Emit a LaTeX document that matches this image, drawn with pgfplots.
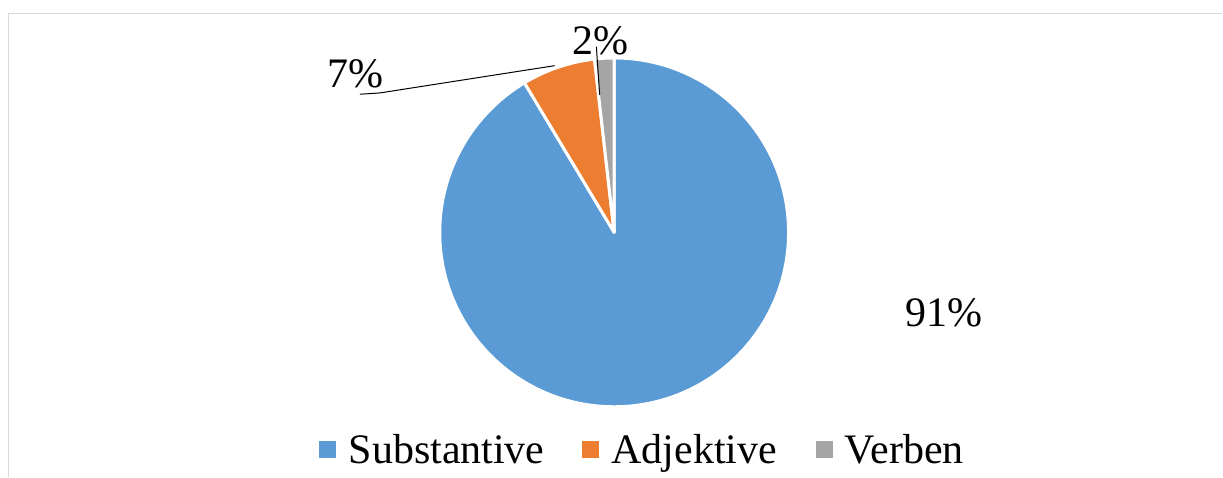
\documentclass[border=0pt]{standalone}
\usepackage{pgfplots}
\pgfplotsset{compat=1.18}
\usepackage{fontspec}
\setmainfont{Liberation Serif}
\definecolor{cBlue}{HTML}{5B9BD5}
\definecolor{cOrange}{HTML}{ED7D31}
\definecolor{cGray}{HTML}{A5A5A5}
\definecolor{cFrame}{HTML}{D9D9D9}
\begin{document}
\begin{tikzpicture}
\begin{axis}[scale only axis, width=611.5pt, height=238.5pt,
  xmin=0, xmax=1223, ymin=0, ymax=477, hide axis, clip=false]
\path (axis cs:0,0) rectangle (axis cs:1223,477);
\draw[color=cFrame, line width=0.7pt] (axis cs:8.3,0) -- (axis cs:8.3,463.7) -- (axis cs:1223,463.7);
% pie slices: values in percent, clockwise from 12 o'clock
\pgfplotsextra{%
  \foreach \v/\c [remember=\e as \s (initially 90)] in {91.4/cBlue, 6.8/cOrange, 1.8/cGray}{%
    \pgfmathsetmacro\e{\s-3.6*\v}%
    \fill[\c, draw=white, line width=1.5pt, line join=round] (axis cs:614.5,244.5) -- ++(\s:87.25pt) arc[start angle=\s, end angle=\e, radius=87.25pt] -- cycle;
  }%
}
% leader lines
\draw[black, line width=0.5pt] (axis cs:360,382.7) -- (axis cs:380,384) -- (axis cs:555,411.3);
\draw[black, line width=0.5pt] (axis cs:596.7,430.3) -- (axis cs:600,382);
% data labels
\node[anchor=base west, inner sep=0pt, font=\fontsize{21}{25}\selectfont] at (axis cs:327,389) {7\%};
\node[anchor=base west, inner sep=0pt, font=\fontsize{21}{25}\selectfont] at (axis cs:572,422) {2\%};
\node[anchor=base west, inner sep=0pt, font=\fontsize{21}{25}\selectfont] at (axis cs:906,150) {91\%};
% legend
\fill[cBlue] (axis cs:319,18.7) rectangle (axis cs:336,35.3);
\fill[cOrange] (axis cs:582.7,18.7) rectangle (axis cs:599.3,35.3);
\fill[cGray] (axis cs:816,18.7) rectangle (axis cs:833,35.3);
\node[anchor=base west, inner sep=0pt, font=\fontsize{21}{25}\selectfont] at (axis cs:348.5,13.7) {Substantive};
\node[anchor=base west, inner sep=0pt, font=\fontsize{21}{25}\selectfont] at (axis cs:611.5,13.7) {Adjektive};
\node[anchor=base west, inner sep=0pt, font=\fontsize{21}{25}\selectfont] at (axis cs:845,13.7) {Verben};
\end{axis}
\end{tikzpicture}
\end{document}
